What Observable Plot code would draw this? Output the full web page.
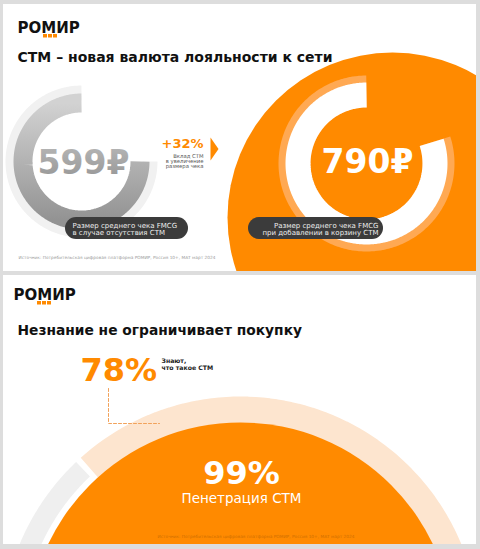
<!DOCTYPE html>
<html><head><meta charset="utf-8">
<script src="https://cdn.jsdelivr.net/npm/d3@7"></script>
<script src="https://cdn.jsdelivr.net/npm/@observablehq/plot@0.6"></script>
<style>
html,body{margin:0;padding:0}
body{background:#dddddd;width:480px;height:549px;overflow:hidden;font-family:"DejaVu Sans",sans-serif}
#wrap{position:absolute;left:3px;top:4px;width:473px}
#wrap svg{display:block;background:#fff;overflow:hidden}
#s2{margin-top:4px}
</style></head><body><div id="wrap"><div id="s1"></div><div id="s2"></div></div>
<script>
// ---------- data ----------
const brand = "РОМИР";
const titles = ["СТМ – новая валюта лояльности к сети", "Незнание не ограничивает покупку"];
const checkValues = [599, 790];
const checkLabels = [
  ["Размер среднего чека FMCG", "в случае отсутствия СТМ"],
  ["Размер среднего чека FMCG", "при добавлении в корзину СТМ"]
];
const ringShares = [0.75, 0.80];          // share of the ring filled around each check value
const upliftValue = "+32%";
const upliftLabel = ["Вклад СТМ", "в увеличение", "размера чека"];
const awarenessShare = 78;
const awarenessLabel = ["Знают,", "что такое СТМ"];
const penetrationShare = 99;
const penetrationLabel = "Пенетрация СТМ";
const source = "Источник: Потребительская цифровая платформа РОМИР, Россия 10+, МАТ март 2024";

// ---------- style ----------
const ORANGE = "#ff8a00";
const FONT = "DejaVu Sans";
const W = 473;

// points along an arc; fractions of a turn, clockwise from 12 o'clock
function arc(cx, cy, r, f0, f1, n = 160) {
  return d3.range(n + 1).map(i => {
    const a = 2 * Math.PI * (f0 + (f1 - f0) * i / n);
    return {x: cx + r * Math.sin(a), y: cy - r * Math.cos(a)};
  });
}
function frame(h, marks) {
  return Plot.plot({
    width: W, height: h, margin: 0,
    x: {domain: [0, W], range: [0, W], axis: null},
    y: {domain: [0, h], range: [0, h], axis: null},
    style: {background: "#fff", overflow: "hidden"},
    marks
  });
}
function defs() {
  const d = d3.create("svg:defs");
  const g = d.append("linearGradient").attr("id", "g599").attr("x1", 0).attr("y1", 0).attr("x2", 0).attr("y2", 1);
  g.append("stop").attr("offset", "0%").attr("stop-color", "#d2d2d2");
  g.append("stop").attr("offset", "100%").attr("stop-color", "#939393");
  const t = d.append("linearGradient").attr("id", "t599").attr("x1", 0).attr("y1", 0).attr("x2", 0).attr("y2", 1);
  t.append("stop").attr("offset", "0%").attr("stop-color", "#b8b8b8");
  t.append("stop").attr("offset", "100%").attr("stop-color", "#959595");
  return d.node();
}
const txt = (data, o) => Plot.text(data, {fontFamily: FONT, lineAnchor: "bottom", ...o});
const logoDots = [0, 1, 2];

// ---------- slide 1 ----------
const L = {cx: 78, cy: 157}, R = {cx: 363, cy: 159};
const slide1 = frame(267, [
  defs,
  // big orange disc
  Plot.dot([0], {x: () => 389, y: () => 213, r: 165, fill: ORANGE, stroke: "none", clip: true}),
  // grey ring (599)
  Plot.line(arc(L.cx, L.cy, 68.5, 1 - ringShares[0], 1), {x: "x", y: "y", stroke: "#f1f1f1", strokeWidth: 15, strokeLinecap: "butt", curve: "linear"}),
  Plot.line(arc(L.cx, L.cy, 58.5, 1 - ringShares[0], 1), {x: "x", y: "y", stroke: "url(#g599)", strokeWidth: 19, strokeLinecap: "butt"}),
  // white ring (790)
  Plot.line(arc(R.cx, R.cy, 72, 1 - ringShares[1], 1), {x: "x", y: "y", stroke: "#ffa953", strokeWidth: 32, strokeLinecap: "butt"}),
  Plot.line(arc(R.cx, R.cy, 68.5, 1 - ringShares[1], 1), {x: "x", y: "y", stroke: "#fff", strokeWidth: 25, strokeLinecap: "butt"}),
  // logo
  txt([brand], {x: () => 14, y: () => 28, text: d => d, textAnchor: "start", fontSize: 15, fontWeight: 900, fill: "#111"}),
  Plot.rect(logoDots, {x1: i => 40 + i * 5, x2: i => 44 + i * 5, y1: () => 30, y2: () => 33.5, fill: ORANGE}),
  // title
  txt([titles[0]], {x: () => 14, y: () => 57, text: d => d, textAnchor: "start", fontSize: 14, fontWeight: "bold", fill: "#111"}),
  // values
  txt([checkValues[0]], {x: () => L.cx + 2, y: () => 169, text: d => d + "₽", fontSize: 33, fontWeight: "bold", fill: "url(#t599)"}),
  txt([checkValues[1]], {x: () => R.cx + 1, y: () => 168, text: d => d + "₽", fontSize: 33, fontWeight: "bold", fill: "#fff"}),
  // uplift
  txt([upliftValue], {x: () => 200, y: () => 143, text: d => d, textAnchor: "end", fontSize: 13, fontWeight: "bold", fill: ORANGE}),
  txt(upliftLabel, {x: () => 200, y: (d, i) => 153 + i * 5, text: d => d, textAnchor: "end", fontSize: 5.3, fill: "#555"}),
  Plot.line([{x: 207, y: 133}, {x: 215, y: 144.5}, {x: 207, y: 156}], {x: "x", y: "y", fill: ORANGE, stroke: "none"}),
  // pills
  Plot.rect([0, 1], {x1: i => [62, 245][i], x2: i => [185, 380][i], y1: () => 213, y2: () => 235, rx: 11, fill: "#3b3b3b"}),
  txt(checkLabels[0], {x: () => 69, y: (d, i) => 223 + i * 7.5, text: d => d, textAnchor: "start", fontSize: 7, fill: "#eeeeee"}),
  txt(checkLabels[1], {x: () => 375, y: (d, i) => 223 + i * 7.5, text: d => d, textAnchor: "end", fontSize: 7, fill: "#eeeeee"}),
  // source
  txt([source], {x: () => 15, y: () => 254, text: d => d, textAnchor: "start", fontSize: 4.3, fill: "#9a9a9a"})
]);

// ---------- slide 2 ----------
const C = {cx: 237, cy: 360};
const cut = -42 / 360;
const slide2 = frame(269, [
  // ring: grey track + peach share
  Plot.line(arc(C.cx, C.cy, 229, cut + awarenessShare / 100 + 0.004, cut + 1 - 0.004), {x: "x", y: "y", stroke: "#efefef", strokeWidth: 20, strokeLinecap: "butt", clip: true}),
  Plot.line(arc(C.cx, C.cy, 224.5, cut, cut + awarenessShare / 100), {x: "x", y: "y", stroke: "#fde5cf", strokeWidth: 29, strokeLinecap: "butt", clip: true}),
  // orange disc (penetration)
  Plot.dot([penetrationShare], {x: () => C.cx, y: () => C.cy, r: 213, fill: ORANGE, stroke: "none", clip: true}),
  // logo
  txt([brand], {x: () => 10, y: () => 24, text: d => d, textAnchor: "start", fontSize: 15, fontWeight: 900, fill: "#111"}),
  Plot.rect(logoDots, {x1: i => 34 + i * 5, x2: i => 38 + i * 5, y1: () => 26, y2: () => 29.5, fill: ORANGE}),
  // title
  txt([titles[1]], {x: () => 14, y: () => 59, text: d => d, textAnchor: "start", fontSize: 13.8, fontWeight: "bold", fill: "#111"}),
  // awareness
  txt([awarenessShare], {x: () => 77, y: () => 105, text: d => d + "%", textAnchor: "start", fontSize: 32, fontWeight: "bold", fill: ORANGE}),
  txt(awarenessLabel, {x: () => 158, y: (d, i) => 87 + i * 7.5, text: d => d, textAnchor: "start", fontSize: 6.2, fontWeight: "bold", fill: "#222"}),
  Plot.line([{x: 105, y: 113}, {x: 105, y: 148}, {x: 156, y: 148}], {x: "x", y: "y", stroke: "#f2a25a", strokeWidth: 1, strokeDasharray: "3,2", curve: "linear"}),
  // penetration
  txt([penetrationShare], {x: () => C.cx + 1, y: () => 208, text: d => d + "%", fontSize: 32, fontWeight: "bold", fill: "#fff"}),
  txt([penetrationLabel], {x: () => C.cx + 1, y: () => 227, text: d => d, fontSize: 13.5, fill: "#fff"}),
  // source
  txt([source], {x: () => 154, y: () => 262, text: d => d, textAnchor: "start", fontSize: 4.3, fill: "#d06f00"})
]);

document.getElementById("s1").append(slide1);
document.getElementById("s2").append(slide2);
</script></body></html>
